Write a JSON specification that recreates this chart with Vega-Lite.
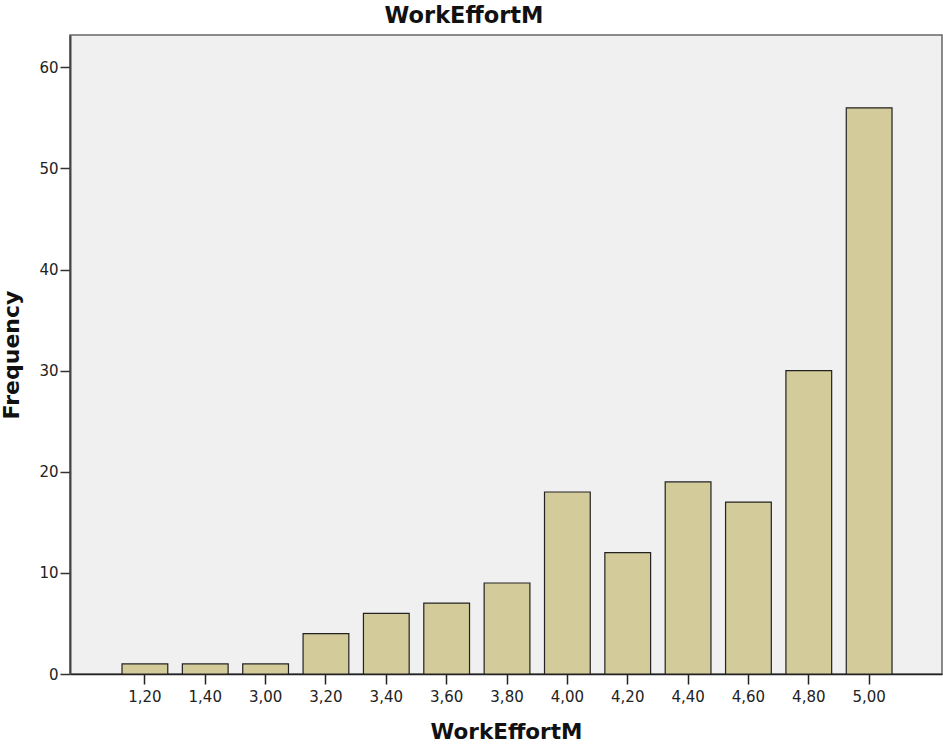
{
  "$schema": "https://vega.github.io/schema/vega-lite/v6.json",
  "width": 872,
  "height": 639,
  "autosize": {"type": "none"},
  "padding": {"left": 70, "top": 35, "right": 1, "bottom": 70},
  "background": "white",
  "title": {
    "text": "WorkEffortM",
    "font": "DejaVu Sans",
    "fontSize": 22.5,
    "fontWeight": "bold",
    "color": "#111111",
    "anchor": "middle",
    "dx": -42,
    "offset": 8
  },
  "data": {
    "values": [
      {"value": "1,20", "count": 1},
      {"value": "1,40", "count": 1},
      {"value": "3,00", "count": 1},
      {"value": "3,20", "count": 4},
      {"value": "3,40", "count": 6},
      {"value": "3,60", "count": 7},
      {"value": "3,80", "count": 9},
      {"value": "4,00", "count": 18},
      {"value": "4,20", "count": 12},
      {"value": "4,40", "count": 19},
      {"value": "4,60", "count": 17},
      {"value": "4,80", "count": 30},
      {"value": "5,00", "count": 56}
    ]
  },
  "mark": {"type": "bar", "fill": "#d3cc9a", "stroke": "#222222", "strokeWidth": 1.2},
  "encoding": {
    "x": {
      "field": "value",
      "type": "ordinal",
      "sort": null,
      "scale": {"paddingInner": 0.242, "paddingOuter": 0.845, "align": 0.51},
      "axis": {
        "title": "WorkEffortM",
        "titleFont": "DejaVu Sans",
        "titleFontSize": 21.5,
        "titleFontWeight": "bold",
        "titleColor": "#111111",
        "titlePadding": 17,
        "labelAngle": 0,
        "labelFont": "DejaVu Sans",
        "labelFontSize": 15,
        "labelColor": "#222222",
        "labelPadding": 5,
        "tickSize": 10,
        "tickColor": "#222222",
        "tickWidth": 1.5,
        "domainColor": "#222222",
        "domainWidth": 1.5
      }
    },
    "y": {
      "field": "count",
      "type": "quantitative",
      "scale": {"domain": [0, 63.2], "nice": false},
      "axis": {
        "title": "Frequency",
        "titleFont": "DejaVu Sans",
        "titleFontSize": 22,
        "titleFontWeight": "bold",
        "titleColor": "#111111",
        "titlePadding": 15,
        "values": [0, 10, 20, 30, 40, 50, 60],
        "grid": false,
        "labelFont": "DejaVu Sans",
        "labelFontSize": 15,
        "labelColor": "#222222",
        "labelPadding": 2,
        "tickSize": 10,
        "tickColor": "#333333",
        "tickWidth": 1.5,
        "domainColor": "#444444",
        "domainWidth": 2
      }
    }
  },
  "config": {
    "view": {"fill": "#f0f0f0", "stroke": "#666666", "strokeWidth": 1.5}
  }
}
